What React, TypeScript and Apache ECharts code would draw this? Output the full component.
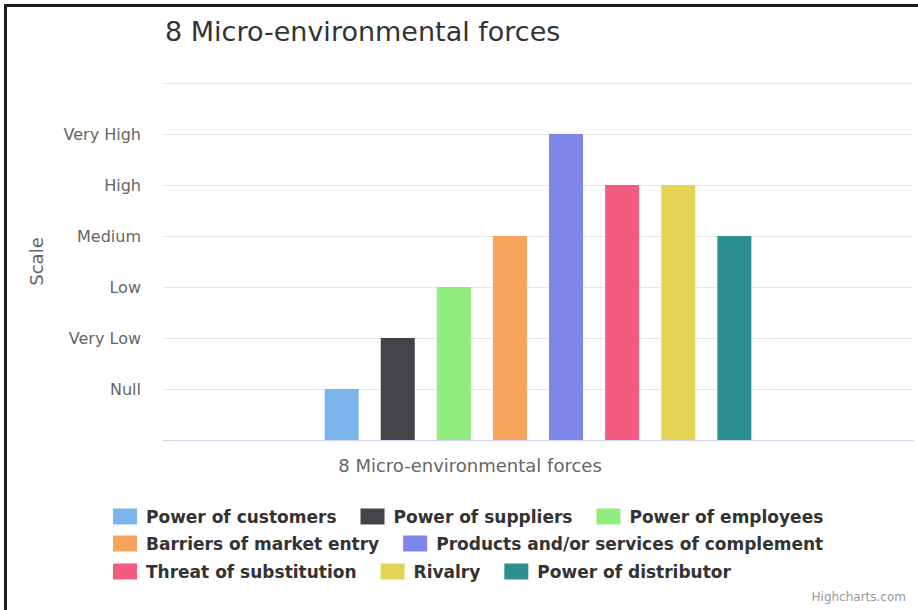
import React, { useEffect, useRef } from "react";
import * as echarts from "echarts";

const titleText = "8 Micro-environmental forces";
const categories = ["8 Micro-environmental forces"];
const seriesNames = [
  "Power of customers",
  "Power of suppliers",
  "Power of employees",
  "Barriers of market entry",
  "Products and/or services of complement",
  "Threat of substitution",
  "Rivalry",
  "Power of distributor",
];
const seriesValues = [1, 2, 3, 4, 6, 5, 5, 4];
const seriesColors = ["#7cb5ec", "#434348", "#90ed7d", "#f7a35c", "#8085e9", "#f15c80", "#e4d354", "#2b908f"];
const yTickLabels = ["", "Null", "Very Low", "Low", "Medium", "High", "Very High", ""];
const legendRows = [
  [0, 1, 2],
  [3, 4],
  [5, 6, 7],
];

const FONT = "DejaVu Sans";

export default function App() {
  const ref = useRef<HTMLDivElement>(null);
  useEffect(() => {
    if (!ref.current) return;
    const chart = echarts.init(ref.current, undefined, { renderer: "svg" });
    const rowTops = [508, 535, 563];
    chart.setOption({
      animation: false,
      title: [
        {
          text: titleText,
          left: 160,
          top: 13,
          textStyle: { fontFamily: FONT, fontSize: 27, fontWeight: "normal", color: "#333333" },
        },
        {
          text: "Highcharts.com",
          right: 7,
          bottom: 2,
          textStyle: { fontFamily: FONT, fontSize: 12, fontWeight: "normal", color: "#999999" },
        },
      ],
      legend: legendRows.map((row, i) => ({
        left: 113,
        top: rowTops[i],
        padding: 0,
        orient: "horizontal",
        icon: "rect",
        itemWidth: 24,
        itemHeight: 16,
        itemGap: 24,
        selectedMode: false,
        data: row.map((k) => seriesNames[k]),
        textStyle: { fontFamily: FONT, fontSize: 17, fontWeight: "bold", color: "#333333", padding: [0, 0, 0, 4] },
      })),
      grid: { left: 163, right: 5, top: 83, bottom: 170 },
      xAxis: {
        type: "category",
        data: categories,
        axisLine: { lineStyle: { color: "#ccd6eb" } },
        axisTick: { show: false },
        axisLabel: {
          fontFamily: FONT,
          fontSize: 18,
          color: "#666666",
          margin: 16,
          padding: [0, 136, 0, 0],
        },
      },
      yAxis: {
        type: "value",
        min: 0,
        max: 7,
        interval: 1,
        name: "Scale",
        nameLocation: "middle",
        nameGap: 118,
        nameTextStyle: { fontFamily: FONT, fontSize: 18, color: "#666666" },
        axisLine: { show: false },
        axisTick: { show: false },
        splitLine: { lineStyle: { color: "#e6e6e6" } },
        axisLabel: {
          fontFamily: FONT,
          fontSize: 16,
          color: "#666666",
          margin: 22,
          formatter: (v: number) => yTickLabels[v] ?? "",
        },
      },
      series: seriesNames.map((name, i) => ({
        type: "bar",
        name,
        data: [seriesValues[i]],
        barWidth: 34,
        barGap: "65%",
        itemStyle: { color: seriesColors[i] },
      })),
    });
    return () => chart.dispose();
  }, []);
  return (
    <div style={{ position: "fixed", left: 0, top: 0, width: 918, height: 610, background: "#ffffff" }}>
      <div
        style={{
          position: "absolute",
          left: 4,
          top: 4,
          width: 914,
          height: 606,
          borderLeft: "3px solid #1c1c1c",
          borderTop: "3px solid #1c1c1c",
          boxSizing: "border-box",
        }}
      />
      <div ref={ref} style={{ position: "absolute", left: 0, top: 0, width: 918, height: 610 }} />
    </div>
  );
}
